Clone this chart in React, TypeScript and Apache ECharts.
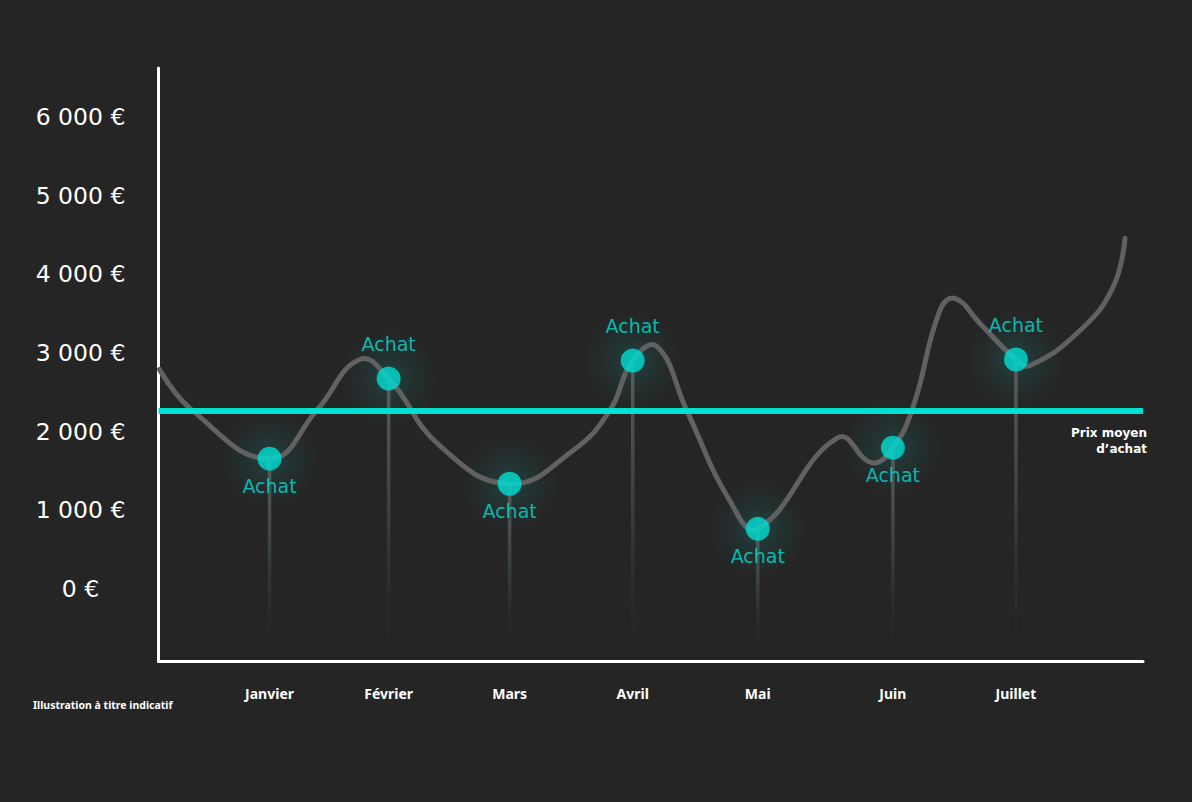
import React, { useEffect, useRef } from "react";
import * as echarts from "echarts";

// Months (category labels) and their positions on the month axis
const months = ["Janvier", "Février", "Mars", "Avril", "Mai", "Juin", "Juillet"];
const monthPos = [1, 1.96, 2.935, 3.927, 4.935, 6.024, 7.016];

// Purchase ("Achat") prices at each month
const achatValues = [1655, 2674, 1336, 2903, 763, 1795, 2916];
const achatLabelPos = ["bottom", "top", "bottom", "top", "bottom", "bottom", "top"];

// Price curve (month position, price in €)
const curveX = [0.113, 0.379, 1.0, 1.379, 1.726, 1.96, 2.371, 2.935, 3.444, 3.742, 3.927, 4.121, 4.363, 4.71, 4.935, 5.581, 5.855, 6.024, 6.185, 6.403, 6.524, 6.726, 7.016, 7.129, 7.532, 7.798, 7.895];
const curveY = [2789, 2266, 1655, 2266, 2916, 2674, 1820, 1336, 1757, 2266, 2903, 3082, 2266, 1120, 763, 1922, 1604, 1795, 2304, 3540, 3693, 3375, 2916, 2839, 3285, 3833, 4457];

// Average purchase price
const avgPrice = 2266;

// Y tick labels
const yTicks = [0, 1000, 2000, 3000, 4000, 5000, 6000];

const X_MIN = 0.105;
const X_MAX = 8.04;
const Y_MIN = -918;
const Y_MAX = 6623;
const STEM_BOTTOM = -650;

const CYAN = "#00dfd3";
const FONT = "'Noto Sans', sans-serif";
const WIDE = "'DejaVu Sans', sans-serif";

export default function App() {
  const ref = useRef<HTMLDivElement>(null);

  useEffect(() => {
    if (!ref.current) return;
    const chart = echarts.init(ref.current, null, { renderer: "svg" });

    const fmtY = (v: number) => (v === 0 ? "0 €" : `${Math.round(v / 1000)} 000 €`);
    const fmtX = (v: number) => {
      let best = 0;
      let d = Infinity;
      monthPos.forEach((p, i) => {
        if (Math.abs(p - v) < d) {
          d = Math.abs(p - v);
          best = i;
        }
      });
      return d < 0.05 ? months[best] : "";
    };

    const stemData = monthPos.map((x, i) => [x, achatValues[i]]);
    const curveData = curveX.map((x, i) => [x, curveY[i]]);
    const haloData = monthPos.map((x, i) => [x, achatValues[i]]);
    const pointData = monthPos.map((x, i) => ({
      value: [x, achatValues[i]],
      label: {
        position: achatLabelPos[i],
        distance: achatLabelPos[i] === "top" ? 13 : 6,
      },
    }));

    chart.setOption({
      animation: false,
      backgroundColor: "#252525",
      textStyle: { fontFamily: FONT },
      title: {
        text: "Illustration à titre indicatif",
        left: 33,
        top: 699,
        padding: 0,
        textStyle: { color: "#ffffff", fontSize: 10.5, fontWeight: "bold", fontFamily: FONT },
      },
      grid: { left: 158.5, right: 49, top: 68, bottom: 141 },
      xAxis: {
        type: "value",
        min: X_MIN,
        max: X_MAX,
        splitLine: { show: false },
        axisTick: { show: false },
        axisLine: { show: true, onZero: false, lineStyle: { color: "#ffffff", width: 3 } },
        axisLabel: {
          customValues: monthPos,
          formatter: fmtX,
          color: "#ffffff",
          fontSize: 14,
          fontWeight: "bold",
          margin: 25,
          fontFamily: FONT,
        },
      },
      yAxis: {
        type: "value",
        min: Y_MIN,
        max: Y_MAX,
        splitLine: { show: false },
        axisTick: { show: false },
        axisLine: { show: true, onZero: false, lineStyle: { color: "#ffffff", width: 3 } },
        axisLabel: {
          customValues: yTicks,
          formatter: fmtY,
          color: "#ffffff",
          fontSize: 23.5,
          align: "center",
          margin: 78,
          fontFamily: WIDE,
        },
      },
      series: [
        {
          type: "scatter",
          name: "halo",
          z: 0,
          silent: true,
          symbol: "circle",
          symbolSize: 96,
          data: haloData,
          itemStyle: {
            color: new echarts.graphic.RadialGradient(0.5, 0.5, 0.5, [
              { offset: 0, color: "rgba(0,223,211,0.2)" },
              { offset: 0.45, color: "rgba(0,223,211,0.09)" },
              { offset: 1, color: "rgba(0,223,211,0)" },
            ]),
          },
        },
        {
          type: "custom",
          name: "stems",
          z: 1,
          silent: true,
          data: stemData,
          renderItem: (params: any, api: any) => {
            const top = api.coord([api.value(0), api.value(1)]);
            const bottom = api.coord([api.value(0), STEM_BOTTOM]);
            return {
              type: "rect",
              shape: { x: top[0] - 1.75, y: top[1], width: 3.5, height: bottom[1] - top[1] },
              style: {
                fill: new echarts.graphic.LinearGradient(0, 0, 0, 1, [
                  { offset: 0, color: "rgba(92,94,93,1)" },
                  { offset: 0.5, color: "rgba(60,72,70,0.85)" },
                  { offset: 1, color: "rgba(40,58,56,0)" },
                ]),
              },
            };
          },
        },
        {
          type: "custom",
          name: "Prix",
          z: 2,
          silent: true,
          data: curveData,
          renderItem: (params: any, api: any) => {
            if (params.dataIndex !== 0) return null;
            const pts = curveData.map((p) => api.coord(p));
            return {
              type: "polyline",
              shape: { points: pts, smooth: 0.45 },
              style: { stroke: "#606160", lineWidth: 5, fill: null, lineCap: "round", lineJoin: "round" },
            };
          },
        },
        {
          type: "scatter",
          name: "Achat",
          z: 6,
          symbol: "circle",
          symbolSize: 24,
          data: pointData,
          itemStyle: { color: CYAN },
          label: {
            show: true,
            formatter: "Achat",
            color: CYAN,
            fontSize: 19,
            fontFamily: WIDE,
          },
          markLine: {
            silent: true,
            symbol: "none",
            z: 3,
            lineStyle: { color: CYAN, width: 6, type: "solid" },
            label: {
              position: "insideEndBottom",
              formatter: "Prix moyen\nd’achat",
              color: "#ffffff",
              fontSize: 12,
              fontWeight: "bold",
              lineHeight: 16,
              align: "right",
              distance: 14,
              offset: [18, 0],
              fontFamily: WIDE,
            },
            data: [{ yAxis: avgPrice }],
          },
        },
      ],
    });

    return () => chart.dispose();
  }, []);

  return (
    <div
      ref={ref}
      style={{ position: "absolute", left: 0, top: 0, width: 1192, height: 802, background: "#252525" }}
    />
  );
}
